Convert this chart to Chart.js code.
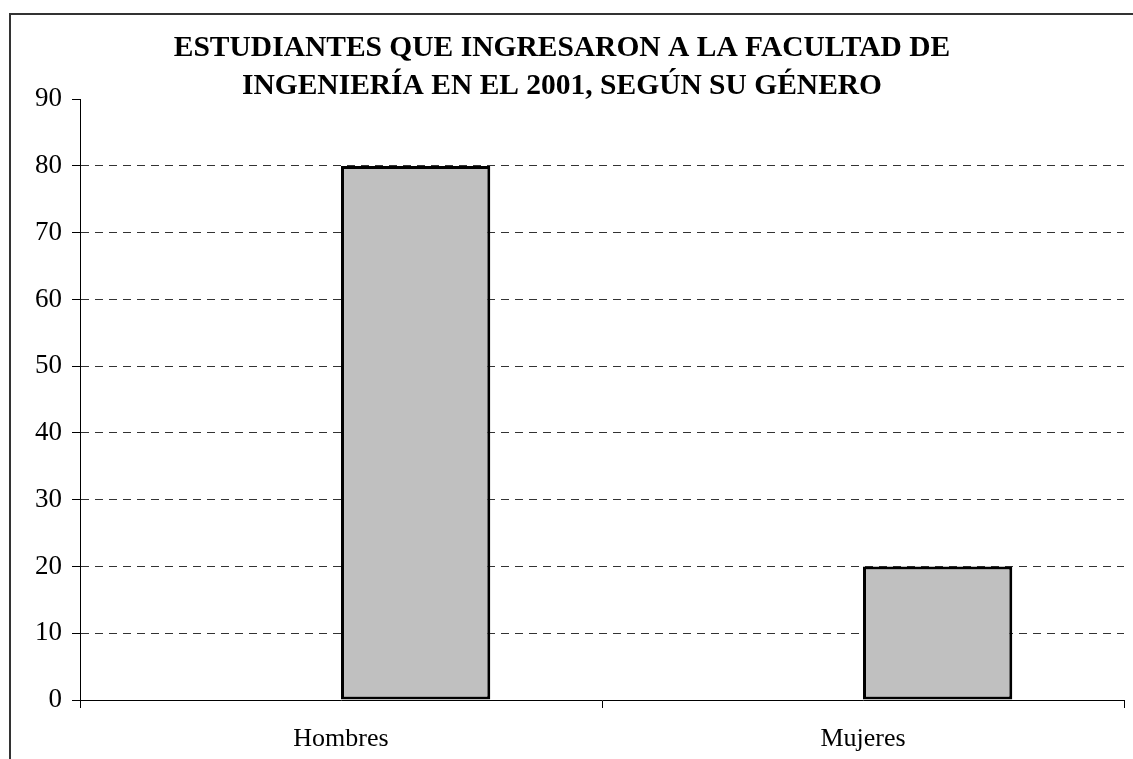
<!DOCTYPE html>
<html>
<head>
<meta charset="utf-8">
<script src="https://cdn.jsdelivr.net/npm/chart.js@4"></script>
<style>
  body { margin: 0; background: #fff; }
  #wrap { width: 1133px; height: 759px; }
</style>
</head>
<body>
<div id="wrap"><canvas id="myChart"></canvas></div>
<script>
var categories = ['Hombres', 'Mujeres'];
var estudiantes = [80, 20];
var vacio = [null, null]; // empty series, Excel-style offset of the bars
var titulo = ['ESTUDIANTES QUE INGRESARON A LA FACULTAD DE', 'INGENIERÍA EN EL 2001, SEGÚN SU GÉNERO'];

var serif = "'Liberation Serif', 'DejaVu Serif', serif";

// outer frame of the chart
var frame = {
    id: 'frame',
    beforeDraw: function (chart) {
        var c = chart.ctx;
        c.save();
        c.fillStyle = '#fff';
        c.fillRect(0, 0, chart.width, chart.height);
        c.strokeStyle = '#333';
        c.lineWidth = 2;
        c.strokeRect(10, 14, 1200, 800);
        c.restore();
    }
};

var ctx = document.getElementById('myChart').getContext('2d');
var chart = new Chart(ctx, {
    type: 'bar',
    data: {
        labels: categories,
        datasets: [{
            label: '',
            data: vacio,
            backgroundColor: '#c0c0c0'
        }, {
            label: 'Estudiantes',
            data: estudiantes,
            backgroundColor: '#c0c0c0',
            borderColor: '#000',
            borderWidth: 3,
            borderSkipped: false
        }]
    },
    options: {
        responsive: true,
        maintainAspectRatio: false,
        animation: false,
        categoryPercentage: 0.572,
        barPercentage: 1,
        layout: { padding: { left: 0, right: 9, top: 0, bottom: 0 } },
        plugins: {
            legend: { display: false },
            tooltip: { enabled: false },
            title: {
                display: true,
                text: titulo,
                color: '#000',
                font: { family: serif, size: 29.5, weight: 'bold', lineHeight: 1.29 },
                padding: { top: 29, bottom: -6 }
            }
        },
        scales: {
            x: {
                offset: true,
                grid: {
                    display: true,
                    offset: true,
                    drawOnChartArea: false,
                    tickLength: 8,
                    tickColor: '#000'
                },
                border: { color: '#000', width: 1 },
                ticks: {
                    color: '#000',
                    padding: 16,
                    font: { family: serif, size: 26 }
                },
                afterFit: function (scale) { scale.height = 59; }
            },
            y: {
                min: 0,
                max: 90,
                grid: {
                    color: function (c) {
                        return (c.tick && (c.tick.value === 90 || c.tick.value === 0)) ? 'rgba(0,0,0,0)' : '#333';
                    },
                    tickColor: '#000',
                    tickLength: 8
                },
                border: { color: '#000', width: 1, dash: [8, 6] },
                ticks: {
                    stepSize: 10,
                    color: '#000',
                    padding: 10,
                    font: { family: serif, size: 27 }
                },
                afterFit: function (scale) { scale.width = 80; }
            }
        }
    },
    plugins: [frame]
});
</script>
</body>
</html>
